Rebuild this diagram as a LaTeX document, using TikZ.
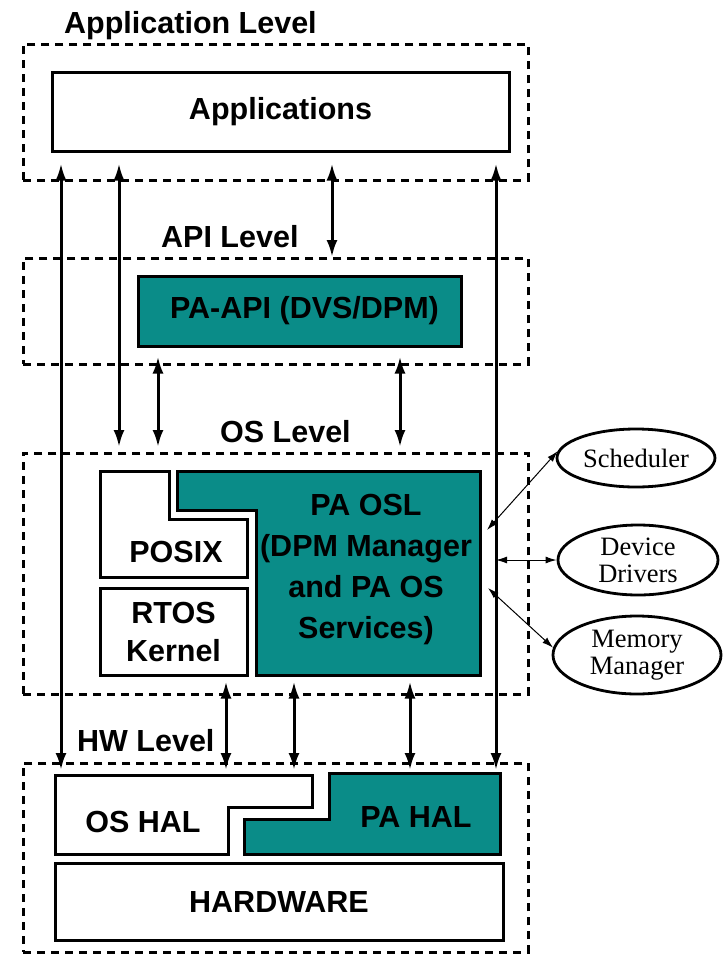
\documentclass[tikz,border=0pt]{standalone}
\usepackage{fontspec}
\setmainfont{Liberation Sans}
\newfontfamily\ellfont{Liberation Serif}
\usetikzlibrary{arrows.meta,shapes.geometric}
\definecolor{osteal}{RGB}{10,140,136}

\begin{document}
\begin{tikzpicture}[x=1pt,y=-1pt,
  lvl/.style={draw,line width=2.6pt,dash pattern=on 8pt off 6pt,inner sep=0pt,anchor=north west},
  lbl/.style={inner sep=0pt,font=\fontsize{30.5}{38}\selectfont\bfseries,align=center},
  lvltxt/.style={lbl,anchor=base west},
  blk/.style={lbl,draw,line width=3pt},
  shp/.style={line width=3pt,line join=miter},
  svc/.style={draw,ellipse,line width=2.8pt,inner sep=0pt,font=\fontsize{26.5}{27}\ellfont,align=center},
  dbl/.style={{Latex[length=17pt,width=11pt]}-{Latex[length=17pt,width=11pt]},line width=3pt},
  svcarrow/.style={{Latex[length=11pt,width=7pt]}-{Latex[length=11pt,width=7pt]},line width=1pt}]
  \useasboundingbox (0,0) rectangle (723,954);
  % Level frames
  \node[lvl,minimum width=505pt,minimum height=136pt] (applvl) at (22,43) {};
  \node[lvl,minimum width=505pt,minimum height=106pt] (apilvl) at (22,257) {};
  \node[lvl,minimum width=505pt,minimum height=241pt] (oslvl) at (22,452) {};
  \node[lvl,minimum width=505pt,minimum height=189pt] (hwlvl) at (22,762) {};
  \node[lvltxt] (applbl) at (64,33) {Application Level};
  \node[lvltxt] (apilbl) at (161,247) {API Level};
  \node[lvltxt] (oslbl) at (220,442) {OS Level};
  \node[lvltxt] (hwlbl) at (77,751) {HW Level};
  % Application and API level
  \node[blk,minimum width=457pt,minimum height=79pt] (apps) at (280.5,111.5) {Applications};
  \node[blk,fill=osteal,minimum width=323pt,minimum height=70pt] (paapi) at (299.5,311) {\hspace*{10pt}PA-API (DVS/DPM)};
  % OS level
  \draw[shp,fill=white] (100,471) -- (169,471) -- (169,519) -- (247,519) -- (247,577) -- (100,577) -- cycle;
  \node[lbl] (posix) at (176,552) {POSIX};
  \node[blk,minimum width=147pt,minimum height=87pt] (rtos) at (173.5,631.5) {RTOS\\Kernel};
  \draw[shp,fill=osteal] (177,471) -- (480,471) -- (480,675) -- (256,675) -- (256,510) -- (177,510) -- cycle;
  \node[lbl,font=\fontsize{30.5}{41}\selectfont\bfseries] (paosl) at (366,570) {PA OSL\\(DPM Manager\\and PA OS\\Services)};
  % HW level
  \draw[shp] (55,775) -- (312,775) -- (312,807) -- (228,807) -- (228,854) -- (55,854) -- cycle;
  \node[lbl] (oshal) at (143,822) {OS HAL};
  \draw[shp,fill=osteal] (329,773) -- (500,773) -- (500,854) -- (244,854) -- (244,819) -- (329,819) -- cycle;
  \node[lbl] (pahal) at (416,817) {PA HAL};
  \node[blk,minimum width=448pt,minimum height=77pt] (hw) at (279,901.5) {HARDWARE};
  % Columns of the level arrows
  \foreach \n/\x in {c1/61,c2/119,c3/332,c4/496,c5/158,c6/400,c7/226,c8/294,c9/410}
    \coordinate (\n) at (\x,0);
  \draw[dbl,shorten <=11pt,shorten >=-8pt] (apps.south -| c1) -- (hwlvl.north -| c1);
  \draw[dbl,shorten <=11pt,shorten >=5pt] (apps.south -| c2) -- (oslvl.north -| c2);
  \draw[dbl,shorten <=11pt] (apps.south -| c3) -- (apilvl.north -| c3);
  \draw[dbl,shorten <=11pt,shorten >=-8pt] (apps.south -| c4) -- (hwlvl.north -| c4);
  \draw[dbl,shorten <=9pt,shorten >=5pt] (paapi.south -| c5) -- (oslvl.north -| c5);
  \draw[dbl,shorten <=9pt,shorten >=5pt] (paapi.south -| c6) -- (oslvl.north -| c6);
  \foreach \c in {c7,c8,c9}
    \draw[dbl,shorten <=5pt,shorten >=-8pt] (rtos.south -| \c) -- (hwlvl.north -| \c);
  % OS services
  \node[svc,minimum width=158pt,minimum height=58pt] (sched) at (636,458) {Scheduler};
  \node[svc,minimum width=160pt,minimum height=70pt] (drv) at (638,560) {Device\\Drivers};
  \node[svc,minimum width=168pt,minimum height=78pt] (mem) at (637,655) {Memory\\Manager};
  \coordinate (schedend) at (487,530);
  \coordinate (memend) at (488,588);
  \draw[svcarrow] (schedend) -- (sched.175);
  \draw[svcarrow] (drv.west -| c4) -- (drv.west);
  \draw[svcarrow] (memend) -- (mem.175);
\end{tikzpicture}
\end{document}
